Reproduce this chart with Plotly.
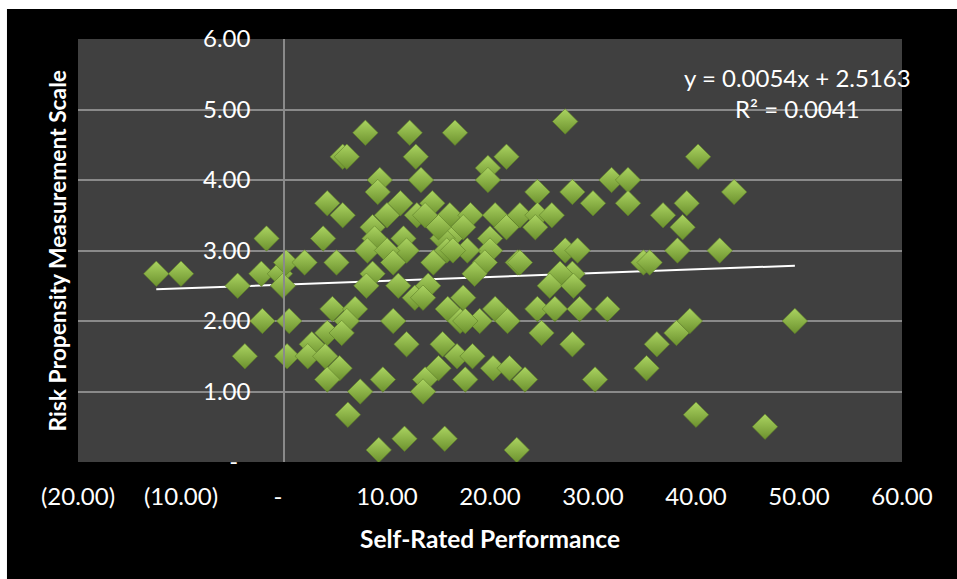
import plotly.graph_objects as go

# Self-rated performance (x) vs. risk propensity score (y)
performance = [
    -12.4, -10.0, -4.5, -1.7, -2.2, -0.4, 0.2, -0.1, -2.1, 0.5, -3.8, 0.3,
    7.9, 12.2, 5.7, 6.1, 12.8, 9.3, 9.1, 13.3, 4.2, 5.7, 11.3, 10.0, 12.9,
    8.6, 8.8, 11.6, 3.8, 8.1, 11.9, 10.0, 10.6, 2.0, 5.1, 8.6, 8.0, 11.1,
    12.7, 4.7, 6.9, 6.1, 10.6, 4.2, 5.6, 11.9, 2.7, 2.3, 4.0, 5.4, 4.2,
    9.6, 7.4, 6.2, 11.7, 9.2,
    16.6, 21.6, 19.8, 19.8, 14.4, 13.7, 16.1, 18.1, 20.5, 17.4, 21.6, 16.1,
    15.4, 20.0, 20.0, 17.8, 15.8, 14.5, 19.5, 18.5, 22.7, 14.0, 13.5, 17.4,
    15.9, 17.1, 19.0, 20.5, 21.7, 15.4, 16.8, 18.3, 20.3, 21.9, 15.0, 13.7,
    17.6, 13.5, 15.6, 22.6, 15.0, 16.4, 17.6,
    27.3, 24.6, 28.0, 31.8, 33.4, 30.0, 33.4, 22.9, 24.6, 26.0, 24.4, 27.3,
    28.5, 22.9, 28.0, 26.8, 25.8, 28.1, 24.6, 26.3, 28.7, 31.4, 25.0, 28.0,
    23.4, 30.2,
    40.2, 43.7, 39.1, 36.8, 38.7, 38.2, 42.3, 34.9, 35.5, 39.4, 38.1, 36.2,
    35.2, 40.0, 46.7, 49.6,
]
risk_score = [
    2.67, 2.67, 2.50, 3.17, 2.67, 2.67, 2.83, 2.50, 2.00, 2.00, 1.50, 1.50,
    4.67, 4.67, 4.33, 4.33, 4.33, 4.00, 3.83, 4.00, 3.67, 3.50, 3.67, 3.50, 3.50,
    3.33, 3.17, 3.17, 3.17, 3.00, 3.00, 3.00, 2.83, 2.83, 2.83, 2.67, 2.50, 2.50,
    2.33, 2.17, 2.17, 2.00, 2.00, 1.83, 1.83, 1.67, 1.67, 1.50, 1.50, 1.33, 1.17,
    1.17, 1.00, 0.67, 0.33, 0.17,
    4.67, 4.33, 4.17, 4.00, 3.67, 3.50, 3.50, 3.50, 3.50, 3.33, 3.33, 3.17,
    3.17, 3.17, 3.00, 3.00, 3.00, 2.83, 2.83, 2.67, 2.83, 2.50, 2.33, 2.33,
    2.17, 2.00, 2.00, 2.17, 2.00, 1.67, 1.50, 1.50, 1.33, 1.33, 1.33, 1.17,
    1.17, 1.00, 0.33, 0.17, 3.33, 3.00, 2.00,
    4.83, 3.83, 3.83, 4.00, 4.00, 3.67, 3.67, 3.50, 3.50, 3.50, 3.33, 3.00,
    3.00, 2.83, 2.67, 2.67, 2.50, 2.50, 2.17, 2.17, 2.17, 2.17, 1.83, 1.67,
    1.17, 1.17,
    4.33, 3.83, 3.67, 3.50, 3.33, 3.00, 3.00, 2.83, 2.83, 2.00, 1.83, 1.67,
    1.33, 0.67, 0.50, 2.00,
]

# Linear trend (least squares) and its fit statistic
slope = 0.0054
intercept = 2.5163
r_squared = 0.0041

x_ticks = [-20, -10, 0, 10, 20, 30, 40, 50, 60]
x_tick_labels = ["(20.00)", "(10.00)", "-\u00a0\u00a0", "10.00", "20.00",
                 "30.00", "40.00", "50.00", "60.00"]
y_ticks = [0, 1, 2, 3, 4, 5, 6]
y_tick_labels = ["-\u00a0\u00a0", "1.00", "2.00", "3.00", "4.00", "5.00", "6.00"]

FONT = "Lato, 'Open Sans', sans-serif"
GRID = "#8a8a8a"

trend_x = [min(performance), max(performance)]
trend_y = [slope * v + intercept for v in trend_x]

fig = go.Figure()

fig.add_trace(go.Scatter(
    x=trend_x, y=trend_y, mode="lines",
    line=dict(color="white", width=2),
    hoverinfo="skip", showlegend=False,
))

fig.add_trace(go.Scatter(
    x=performance, y=risk_score, mode="markers",
    marker=dict(
        symbol="diamond", size=19.5,
        color="#abd461",
        gradient=dict(type="vertical", color="#6c912e"),
        line=dict(color="#5e7f28", width=0.6),
    ),
    showlegend=False,
))

fig.update_layout(
    width=957, height=579,
    margin=dict(l=78, r=55, t=39, b=117),
    paper_bgcolor="white",
    plot_bgcolor="rgba(0,0,0,0)",
    font=dict(family=FONT, color="white", size=24),
    shapes=[
        # black chart area
        dict(type="rect", xref="paper", yref="paper",
             x0=-0.0862, x1=1.07, y0=-0.28, y1=1.0709,
             fillcolor="black", line_width=0, layer="below"),
        # plot area
        dict(type="rect", xref="paper", yref="paper",
             x0=0, x1=1, y0=0, y1=1,
             fillcolor="#404040", line_width=0, layer="below"),
    ],
    xaxis=dict(
        range=[-20, 60], tickvals=x_ticks, ticktext=x_tick_labels,
        showgrid=False, zeroline=False, showline=False,
        ticks="", ticklabelstandoff=18,
        tickfont=dict(family=FONT, size=24, color="white"),
        fixedrange=True,
    ),
    yaxis=dict(
        range=[0, 6], tickvals=y_ticks, ticktext=y_tick_labels,
        showgrid=True, gridcolor=GRID, gridwidth=1.5,
        zeroline=False, showline=True, linecolor=GRID, linewidth=1.5,
        anchor="free", position=0.25, side="left",
        ticks="", ticklabelstandoff=28,
        tickfont=dict(family=FONT, size=24, color="white"),
        fixedrange=True,
    ),
    annotations=[
        dict(text="<b>Self-Rated Performance</b>", xref="paper", yref="paper",
             x=0.5, y=-0.18, xanchor="center", yanchor="middle",
             showarrow=False, font=dict(family=FONT, size=24.5, color="white")),
        dict(text="<b>Risk Propensity Measurement Scale</b>", xref="paper", yref="paper",
             x=-0.0255, y=0.5, xanchor="center", yanchor="middle", textangle=-90,
             showarrow=False, font=dict(family=FONT, size=22.8, color="white")),
        dict(text=f"y = {slope:.4f}x + {intercept:.4f}<br>R² = {r_squared:.4f}",
             xref="paper", yref="paper", x=0.8726, y=0.8723,
             xanchor="center", yanchor="middle", align="center",
             showarrow=False, font=dict(family=FONT, size=24, color="white")),
    ],
)

fig.write_html("out.html")
